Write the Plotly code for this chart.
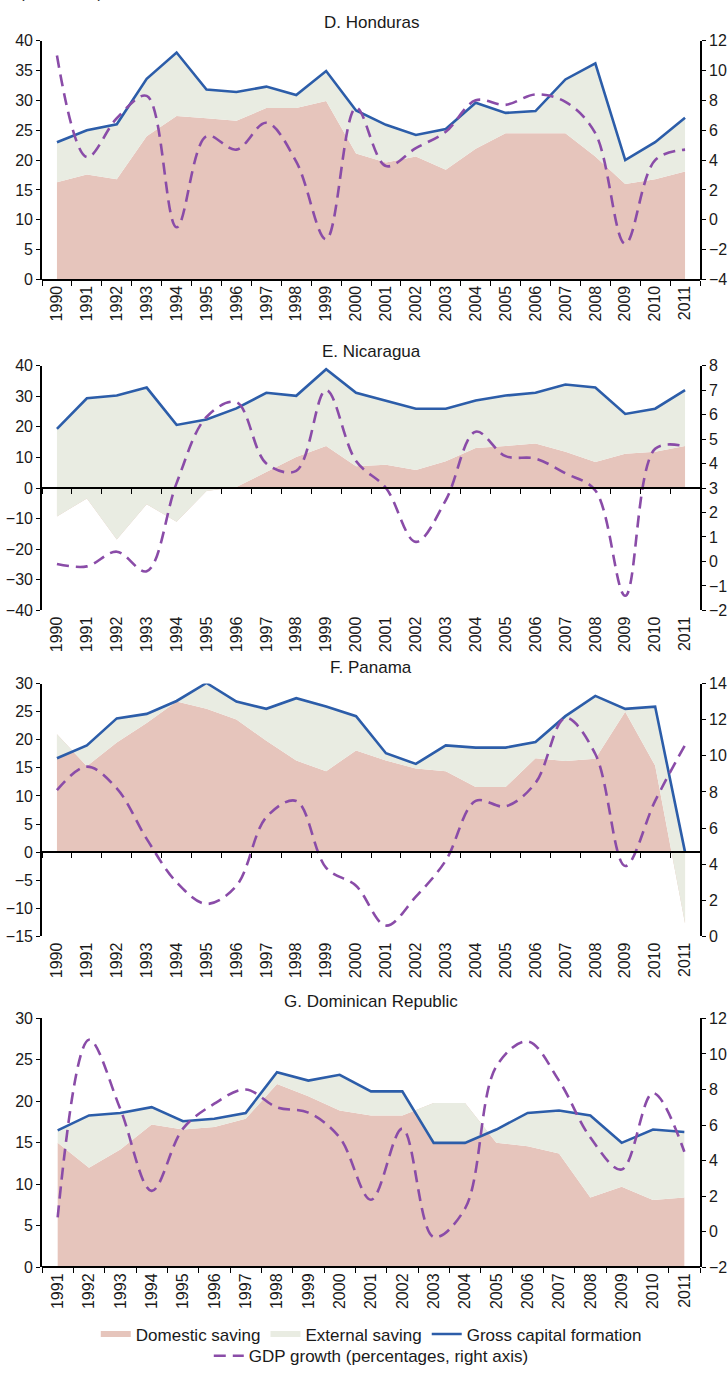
import plotly.graph_objects as go

# ---------------- data ----------------
years_90 = ["1990", "1991", "1992", "1993", "1994", "1995", "1996", "1997", "1998", "1999", "2000",
            "2001", "2002", "2003", "2004", "2005", "2006", "2007", "2008", "2009", "2010", "2011"]
years_91 = years_90[1:]

# D. Honduras
hn_domestic = [16.3, 17.6, 16.8, 24.0, 27.4, 27.0, 26.6, 28.7, 28.7, 29.9, 21.1,
               19.6, 20.6, 18.4, 21.9, 24.5, 24.5, 24.5, 20.6, 16.0, 16.8, 18.1]
hn_external = [6.7, 7.4, 9.2, 9.6, 10.6, 4.8, 4.8, 3.6, 2.2, 5.0, 7.2,
               6.3, 3.6, 6.8, 7.7, 3.4, 3.7, 9.0, 15.6, 4.0, 6.2, 9.0]
hn_gcf = [23.0, 25.0, 26.0, 33.6, 38.0, 31.8, 31.4, 32.3, 30.9, 34.9, 28.3,
          25.9, 24.2, 25.2, 29.6, 27.9, 28.2, 33.5, 36.2, 20.0, 23.0, 27.1]
hn_gdp = [11.0, 4.2, 6.8, 8.3, -0.5, 5.6, 4.7, 6.5, 3.9, -1.3, 7.5,
          3.6, 4.8, 5.9, 8.0, 7.7, 8.4, 7.9, 5.8, -1.6, 4.0, 4.7]

# E. Nicaragua
ni_domestic = [-9.3, -3.4, -16.8, -5.3, -11.0, -1.0, 0.3, 5.2, 10.1, 13.7, 7.1,
               7.6, 5.9, 8.7, 13.1, 13.7, 14.5, 11.8, 8.5, 11.2, 11.8, 13.7]
ni_external = [28.6, 32.7, 47.0, 38.1, 31.6, 23.4, 25.7, 25.9, 20.0, 25.1, 24.0,
               20.9, 20.0, 17.2, 15.5, 16.5, 16.6, 22.0, 24.3, 13.0, 14.1, 18.3]
ni_gcf = [19.3, 29.3, 30.2, 32.8, 20.6, 22.4, 26.0, 31.1, 30.1, 38.8, 31.1,
          28.5, 25.9, 25.9, 28.6, 30.2, 31.1, 33.8, 32.8, 24.2, 25.9, 32.0]
ni_gdp = [-0.1, -0.2, 0.4, -0.4, 3.2, 5.9, 6.5, 4.0, 3.7, 7.0, 4.1,
          3.0, 0.8, 2.5, 5.3, 4.3, 4.2, 3.6, 2.9, -1.4, 4.6, 4.7]

# F. Panama
pa_domestic = [21.0, 15.3, 19.5, 23.0, 26.8, 25.5, 23.6, 19.8, 16.3, 14.4, 18.1,
               16.3, 14.9, 14.4, 11.6, 11.6, 16.7, 16.2, 16.6, 25.0, 15.4, -12.7]
pa_external = [-4.3, 3.7, 4.3, 1.6, 0.1, 4.6, 3.2, 5.7, 11.1, 11.5, 6.1,
               1.3, 0.8, 4.6, 7.0, 7.0, 2.9, 8.0, 11.2, 0.5, 10.5, 12.7]
pa_gcf = [16.7, 19.0, 23.8, 24.6, 26.9, 30.1, 26.8, 25.5, 27.4, 25.9, 24.2,
          17.6, 15.7, 19.0, 18.6, 18.6, 19.6, 24.2, 27.8, 25.5, 25.9, 0.0]
pa_gdp = [8.1, 9.4, 8.2, 5.4, 3.0, 1.8, 2.8, 6.6, 7.5, 3.8, 2.8,
          0.6, 2.2, 4.2, 7.5, 7.2, 8.5, 12.1, 10.1, 3.9, 7.5, 10.6]

# G. Dominican Republic
do_domestic = [15.0, 12.0, 14.2, 17.2, 16.6, 16.9, 17.9, 22.1, 20.6, 18.9, 18.3,
               18.3, 19.8, 19.8, 15.0, 14.6, 13.7, 8.4, 9.7, 8.1, 8.4]
do_external = [1.5, 6.3, 4.4, 2.1, 1.0, 1.0, 0.7, 1.4, 1.9, 4.3, 2.9,
               2.9, -4.8, -4.8, 1.6, 4.0, 5.2, 9.9, 5.3, 8.5, 7.9]
do_gcf = [16.5, 18.3, 18.6, 19.3, 17.6, 17.9, 18.6, 23.5, 22.5, 23.2, 21.2,
          21.2, 15.0, 15.0, 16.6, 18.6, 18.9, 18.3, 15.0, 16.6, 16.3]
do_gdp = [0.8, 10.8, 6.9, 2.3, 5.8, 7.2, 8.0, 7.0, 6.7, 5.3, 1.8,
          5.8, -0.3, 1.3, 9.3, 10.7, 8.5, 5.3, 3.5, 7.8, 4.5]

titles = ["D. Honduras", "E. Nicaragua", "F. Panama", "G. Dominican Republic"]
series_names = ["Domestic saving", "External saving", "Gross capital formation",
                "GDP growth (percentages, right axis)"]

# ---------------- styling / layout ----------------
W, H = 728, 1378
FONT = "Liberation Sans Narrow, Arial Narrow, Liberation Sans, Arial, sans-serif"
TXT = "#1a1a1a"
C_DOM = "#E6C5BC"
C_EXT = "#E9ECE2"
C_GCF = "#2C5DA9"
C_GDP = "#8A4CA8"


def py(px):
    return 1 - px / H


XD = [42 / W, 700 / W]

panels = [
    dict(years=years_90, dom=hn_domestic, ext=hn_external, gcf=hn_gcf, gdp=hn_gdp,
         left=(0, 40, 5), right=(-4, 12, 2), top=33, bottom=275, ty=15),
    dict(years=years_90, dom=ni_domestic, ext=ni_external, gcf=ni_gcf, gdp=ni_gdp,
         left=(-40, 40, 10), right=(-2, 8, 1), top=362, bottom=610, ty=348),
    dict(years=years_90, dom=pa_domestic, ext=pa_external, gcf=pa_gcf, gdp=pa_gdp,
         left=(-15, 30, 5), right=(0, 14, 2), top=684, bottom=940, ty=668),
    dict(years=years_91, dom=do_domestic, ext=do_external, gcf=do_gcf, gdp=do_gdp,
         left=(0, 30, 5), right=(-2, 12, 2), top=1023, bottom=1275, ty=1006),
]


def nm(prefix, n):
    return prefix if n == 1 else f"{prefix}{n}"


fig = go.Figure()
layout = {}
annotations = []

for i, p in enumerate(panels):
    k = i + 1
    xa = nm("x", k)
    xz = nm("x", k + 4)
    yl = nm("y", 2 * k - 1)
    yr = nm("y", 2 * k)
    yrs = p["years"]
    n = len(yrs)
    top_stack = [d + e for d, e in zip(p["dom"], p["ext"])]
    first = (k == 1)

    fig.add_trace(go.Scatter(x=yrs, y=p["dom"], xaxis=xa, yaxis=yl, mode="none",
                             fill="tozeroy", fillcolor=C_DOM, name=series_names[0],
                             showlegend=first, legend="legend", hoverinfo="skip"))
    fig.add_trace(go.Scatter(x=yrs, y=top_stack, xaxis=xa, yaxis=yl, mode="none",
                             fill="tonexty", fillcolor=C_EXT, name=series_names[1],
                             showlegend=first, legend="legend", hoverinfo="skip"))
    fig.add_trace(go.Scatter(x=yrs, y=p["gcf"], xaxis=xa, yaxis=yl, mode="lines",
                             line=dict(color=C_GCF, width=2.6), name=series_names[2],
                             showlegend=first, legend="legend"))
    # helper trace that carries the zero-line category axis
    fig.add_trace(go.Scatter(x=yrs, y=[None] * n, xaxis=xz, yaxis=yl, mode="lines",
                             showlegend=False, hoverinfo="skip"))
    fig.add_trace(go.Scatter(x=yrs, y=p["gdp"], xaxis=xa, yaxis=yr, mode="lines",
                             line=dict(color=C_GDP, width=2.6, dash="12px,7px",
                                       shape="spline", smoothing=1.0),
                             name=series_names[3], showlegend=first, legend="legend2"))

    lo, hi, dt = p["left"]
    rlo, rhi, rdt = p["right"]
    d0, d1 = py(p["bottom"]), py(p["top"])
    zero_pos = d0 + (0 - lo) / (hi - lo) * (d1 - d0)

    tickfont = dict(family=FONT, size=16, color=TXT)
    layout[nm("xaxis", k)] = dict(
        domain=XD, anchor=yl, type="category", categoryorder="array", categoryarray=yrs,
        range=[-0.5, n - 0.5], tickmode="linear", tick0=0, dtick=1, tickangle=-90,
        ticks="", showline=False, showgrid=False, zeroline=False, tickfont=tickfont,
        ticklabelstandoff=2)
    layout[nm("xaxis", k + 4)] = dict(
        domain=XD, overlaying=xa, anchor="free", position=zero_pos, type="category",
        categoryorder="array", categoryarray=yrs, range=[-0.5, n - 0.5],
        tickmode="linear", tick0=0, dtick=1, tickson="boundaries", ticks="outside",
        ticklen=5, tickwidth=1.3, tickcolor="black", showticklabels=False,
        showline=True, linewidth=2.2, linecolor="black", showgrid=False, zeroline=False)
    layout[nm("yaxis", 2 * k - 1)] = dict(
        domain=[d0, d1], anchor=xa, range=[lo, hi], tickmode="linear", tick0=lo, dtick=dt,
        showline=True, linewidth=1.6, linecolor="black", ticks="outside", ticklen=4,
        tickwidth=1.3, tickcolor="black", showgrid=False, zeroline=False, tickfont=tickfont)
    layout[nm("yaxis", 2 * k)] = dict(
        overlaying=yl, side="right", anchor=xa, range=[rlo, rhi], tickmode="linear",
        tick0=rlo, dtick=rdt, showline=True, linewidth=1.6, linecolor="black",
        ticks="outside", ticklen=4, tickwidth=1.3, tickcolor="black", showgrid=False,
        zeroline=False, tickfont=tickfont)

    annotations.append(dict(text=titles[i], x=(XD[0] + XD[1]) / 2, y=py(p["ty"]),
                            xref="paper", yref="paper", xanchor="center", yanchor="middle",
                            showarrow=False, font=dict(family=FONT, size=17, color=TXT)))

# heading line of the page, almost entirely above the cropped picture (as in the reference)
annotations.append(dict(text="2 (concluded)", x=4 / W, y=py(-5), xref="paper", yref="paper",
                        xanchor="left", yanchor="bottom", showarrow=False,
                        font=dict(family=FONT, size=16, color=TXT)))

fig.update_layout(
    width=W, height=H, margin=dict(l=0, r=0, t=0, b=0),
    paper_bgcolor="white", plot_bgcolor="rgba(0,0,0,0)",
    font=dict(family=FONT, color=TXT),
    annotations=annotations,
    legend=dict(orientation="h", x=0.51, xanchor="center", y=py(1343), yanchor="middle",
                font=dict(family=FONT, size=17, color=TXT), bgcolor="rgba(0,0,0,0)",
                itemwidth=30, traceorder="normal"),
    legend2=dict(orientation="h", x=0.51, xanchor="center", y=py(1365), yanchor="middle",
                 font=dict(family=FONT, size=17, color=TXT), bgcolor="rgba(0,0,0,0)",
                 itemwidth=30),
    **layout,
)

fig.write_html("out.html")
